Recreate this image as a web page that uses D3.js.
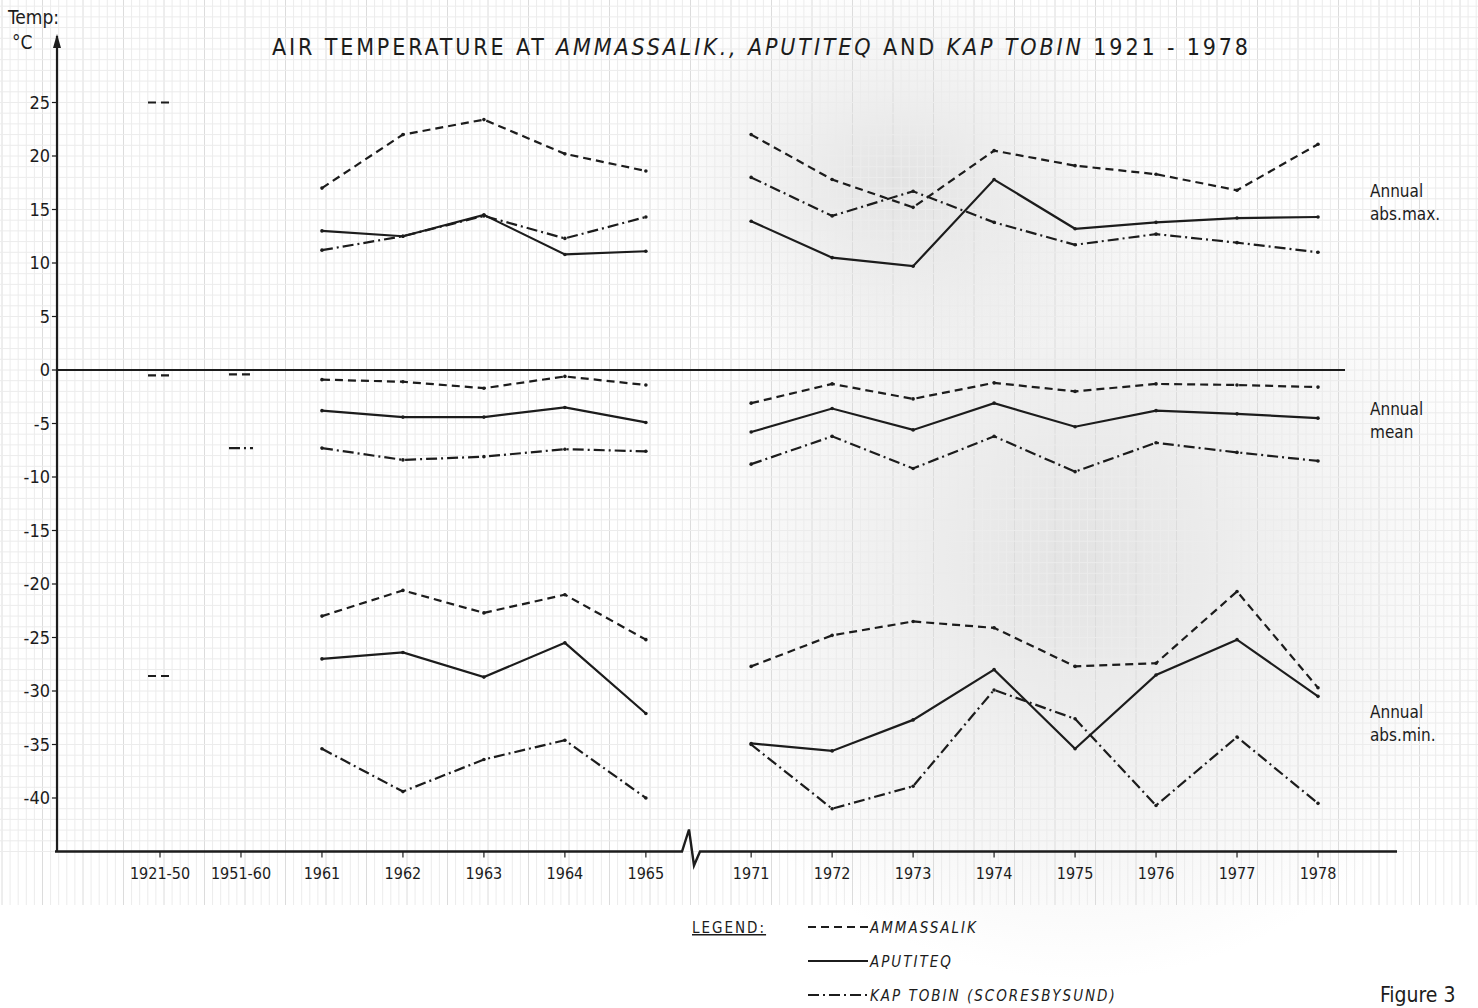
<!DOCTYPE html>
<html lang="en">
<head>
<meta charset="UTF-8">
<title>Air temperature at Ammassalik, Aputiteq and Kap Tobin</title>
<style>
  body { margin: 0; background: #fff; }
  svg text { font-family: "DejaVu Sans Condensed", "DejaVu Sans", sans-serif; fill: #1c1c1c; }
  .line { fill: none; stroke: #1c1c1c; stroke-width: 2.2px; }
  .grid-minor { stroke: #ececec; stroke-width: 1px; }
  .grid-major { stroke: #dcdcdc; stroke-width: 1px; }
</style>
</head>
<body>
<div id="chart"></div>

<script src="https://cdn.jsdelivr.net/npm/d3@7"></script>
<script>
// categories on the x axis (a break between 1965 and 1971)
const categories = ["1921-50", "1951-60", "1961", "1962", "1963", "1964", "1965",
  "1971", "1972", "1973", "1974", "1975", "1976", "1977", "1978"];
const yTicks = [25, 20, 15, 10, 5, 0, -5, -10, -15, -20, -25, -30, -35, -40];

// annual absolute maximum
const ammMax = [25.0, null, 17.0, 22.0, 23.4, 20.2, 18.6, 22.0, 17.8, 15.2, 20.5, 19.1, 18.3, 16.8, 21.1];
const aptMax = [null, null, 13.0, 12.5, 14.5, 10.8, 11.1, 13.9, 10.5, 9.7, 17.8, 13.2, 13.8, 14.2, 14.3];
const kapMax = [null, null, 11.2, 12.5, 14.4, 12.3, 14.3, 18.0, 14.4, 16.7, 13.8, 11.7, 12.7, 11.9, 11.0];
// annual mean
const ammMean = [-0.5, -0.4, -0.9, -1.1, -1.7, -0.6, -1.4, -3.1, -1.3, -2.7, -1.2, -2.0, -1.3, -1.4, -1.6];
const aptMean = [null, null, -3.8, -4.4, -4.4, -3.5, -4.9, -5.8, -3.6, -5.6, -3.1, -5.3, -3.8, -4.1, -4.5];
const kapMean = [null, -7.3, -7.3, -8.4, -8.1, -7.4, -7.6, -8.8, -6.2, -9.2, -6.2, -9.5, -6.8, -7.7, -8.5];
// annual absolute minimum
const ammMin = [-28.6, null, -23.0, -20.6, -22.7, -21.0, -25.2, -27.7, -24.8, -23.5, -24.1, -27.7, -27.4, -20.7, -29.7];
const aptMin = [null, null, -27.0, -26.4, -28.7, -25.5, -32.1, -34.9, -35.6, -32.7, -28.0, -35.4, -28.5, -25.2, -30.5];
const kapMin = [null, null, -35.4, -39.4, -36.4, -34.6, -40.0, -35.0, -41.0, -38.9, -29.9, -32.6, -40.7, -34.3, -40.5];

const stations = [
  { name: "AMMASSALIK", dash: "8,5" },
  { name: "APUTITEQ", dash: null },
  { name: "KAP TOBIN (SCORESBYSUND)", dash: "11,4,2,4" }
];
const series = [
  { st: 0, values: ammMax }, { st: 1, values: aptMax }, { st: 2, values: kapMax },
  { st: 0, values: ammMean }, { st: 1, values: aptMean }, { st: 2, values: kapMean },
  { st: 0, values: ammMin }, { st: 1, values: aptMin }, { st: 2, values: kapMin }
];

const width = 1478, height = 1008;
const svg = d3.select("#chart").append("svg")
  .attr("width", width).attr("height", height);

// position index: a little extra room after the break
const pos = i => i <= 6 ? i : i + 0.3;
const x = d3.scaleLinear().domain([0, 14.3]).range([160, 1318]);
const y = d3.scaleLinear().domain([-45, 25]).range([851.5, 102.5]);

// graph paper background
const paper = svg.append("g");
const defs = svg.append("defs");
const grad = defs.append("radialGradient").attr("id", "shade")
  .attr("cx", "0.5").attr("cy", "0.5").attr("r", "0.5");
grad.append("stop").attr("offset", "0%").attr("stop-color", "#d0d0d0").attr("stop-opacity", 0.6);
grad.append("stop").attr("offset", "100%").attr("stop-color", "#d0d0d0").attr("stop-opacity", 0);
paper.append("ellipse").attr("cx", 1080).attr("cy", 560).attr("rx", 420).attr("ry", 420)
  .attr("fill", "url(#shade)");
paper.append("ellipse").attr("cx", 900).attr("cy", 180).attr("rx", 260).attr("ry", 200)
  .attr("fill", "url(#shade)");
for (let gx = 2; gx < width; gx += 8.1) {
  const major = Math.round((gx - 2) / 8.1) % 5 === 0;
  paper.append("line").attr("class", major ? "grid-major" : "grid-minor")
    .attr("x1", gx).attr("x2", gx).attr("y1", 0).attr("y2", 905);
}
for (let gy = y(-45); gy > 0; gy -= 10.7) {
  paper.append("line").attr("class", "grid-minor")
    .attr("x1", 0).attr("x2", width).attr("y1", gy).attr("y2", gy);
}

// title
const title = svg.append("text").attr("x", 272).attr("y", 55)
  .attr("textLength", 976).attr("lengthAdjust", "spacing")
  .style("font-size", "23px");
title.append("tspan").text("AIR TEMPERATURE  AT  ");
title.append("tspan").style("font-style", "italic").text("AMMASSALIK., APUTITEQ ");
title.append("tspan").text("AND ");
title.append("tspan").style("font-style", "italic").text("KAP TOBIN ");
title.append("tspan").text("1921 - 1978");

// y axis with arrow
svg.append("line").attr("x1", 57).attr("x2", 57).attr("y1", 36).attr("y2", y(-45))
  .attr("stroke", "#1c1c1c").attr("stroke-width", 2.2);
svg.append("path").attr("d", "M57,34 L53,48 L61,48 Z").attr("fill", "#1c1c1c");
svg.append("text").attr("x", 8).attr("y", 24).style("font-size", "19px").text("Temp:");
svg.append("text").attr("x", 12).attr("y", 49).style("font-size", "19px").text("°C");

svg.append("g").selectAll("text").data(yTicks).join("text")
  .attr("x", 50).attr("y", d => y(d) + 6)
  .attr("text-anchor", "end").style("font-size", "18px")
  .text(d => d);
svg.append("g").selectAll("line").data(yTicks).join("line")
  .attr("x1", 52).attr("x2", 57).attr("y1", d => y(d)).attr("y2", d => y(d))
  .attr("stroke", "#1c1c1c").attr("stroke-width", 1.2);

// zero line
svg.append("line").attr("x1", 57).attr("x2", 1345).attr("y1", y(0)).attr("y2", y(0))
  .attr("stroke", "#1c1c1c").attr("stroke-width", 2.2);

// x axis with break
const yb = y(-45);
svg.append("path")
  .attr("d", `M55,${yb} L682,${yb} L689,${yb - 22} L694,${yb + 14} L700,${yb} L1397,${yb}`)
  .attr("fill", "none").attr("stroke", "#1c1c1c").attr("stroke-width", 2.4);
svg.append("g").selectAll("line").data(categories).join("line")
  .attr("x1", (d, i) => x(pos(i))).attr("x2", (d, i) => x(pos(i)))
  .attr("y1", yb).attr("y2", yb + 6)
  .attr("stroke", "#1c1c1c").attr("stroke-width", 1.2);
svg.append("g").selectAll("text").data(categories).join("text")
  .attr("x", (d, i) => x(pos(i))).attr("y", yb + 27)
  .attr("text-anchor", "middle").style("font-size", "16px")
  .text(d => d);

// data lines: two runs, 1961-1965 and 1971-1978
const line = d3.line().defined(d => d.v != null).x(d => x(pos(d.i))).y(d => y(d.v));
const runs = [[2, 6], [7, 14]];
const plot = svg.append("g");
series.forEach(s => {
  const dash = stations[s.st].dash;
  const pts = s.values.map((v, i) => ({ v, i }));
  runs.forEach(([a, b]) => {
    plot.append("path").attr("class", "line")
      .attr("stroke-dasharray", dash)
      .attr("d", line(pts.slice(a, b + 1)));
  });
  plot.append("g").selectAll("circle").data(pts.filter(p => p.v != null && p.i >= 2)).join("circle")
    .attr("cx", p => x(pos(p.i))).attr("cy", p => y(p.v)).attr("r", 1.8)
    .attr("fill", "#1c1c1c");
  // 30- and 10-year normals shown as short marks
  pts.filter(p => p.v != null && p.i < 2).forEach(p => {
    plot.append("line").attr("class", "line")
      .attr("stroke-dasharray", dash)
      .attr("x1", x(pos(p.i)) - 12).attr("x2", x(pos(p.i)) + 12)
      .attr("y1", y(p.v)).attr("y2", y(p.v));
  });
});

// group labels on the right
const groupLabels = [
  { lines: ["Annual", "abs.max."], v: 16.2 },
  { lines: ["Annual", "mean"], v: -4.2 },
  { lines: ["Annual", "abs.min."], v: -32.5 }
];
groupLabels.forEach(g => {
  const t = svg.append("text").attr("x", 1370).attr("y", y(g.v)).style("font-size", "17px");
  g.lines.forEach((l, k) => t.append("tspan").attr("x", 1370).attr("dy", k ? 23 : 0).text(l));
});

// legend
svg.append("text").attr("x", 692).attr("y", 933).style("font-size", "15px")
  .style("letter-spacing", "2px").style("text-decoration", "underline").text("LEGEND:");
const leg = svg.append("g").selectAll("g").data(stations).join("g")
  .attr("transform", (d, i) => `translate(808,${927 + i * 34})`);
leg.append("line").attr("class", "line").attr("x1", 0).attr("x2", 60).attr("y1", 0).attr("y2", 0)
  .attr("stroke-dasharray", d => d.dash);
leg.append("text").attr("x", 62).attr("y", 6).style("font-size", "15px")
  .style("font-style", "italic").style("letter-spacing", "2px").text(d => d.name);

svg.append("text").attr("x", 1380).attr("y", 1002).style("font-size", "21px").text("Figure 3");
</script>
</body>
</html>
